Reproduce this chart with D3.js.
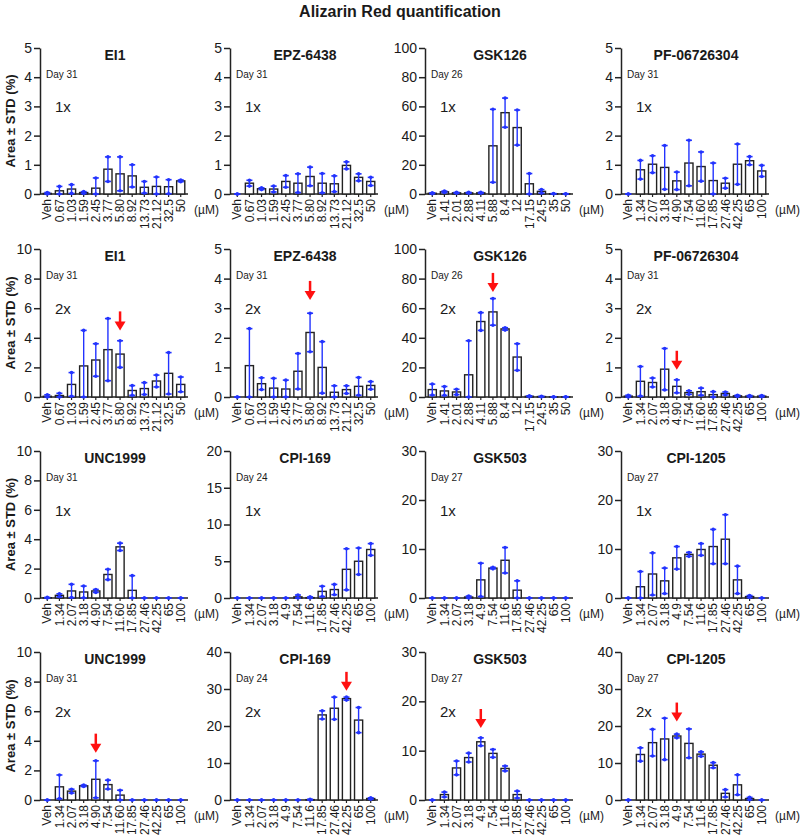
<!DOCTYPE html>
<html><head><meta charset="utf-8">
<script src="https://cdn.jsdelivr.net/npm/d3@7"></script>
<style>
body{margin:0;background:#fff}
text{font-family:"Liberation Sans",Arial,Helvetica,sans-serif;fill:#1a1a1a}
</style>
</head><body>
<svg id="c" width="800" height="837"></svg>
<script>
// ---------- categories (µM) ----------
const catsEI = ["Veh","0.67","1.03","1.59","2.45","3.77","5.80","8.92","13.73","21.12","32.5","50"];
const catsGSK126 = ["Veh","1.41","2.01","2.88","4.11","5.88","8.4","12","17.15","24.5","35","50"];
const catsPF = ["Veh","1.34","2.07","3.18","4.90","7.54","11.60","17.85","27.46","42.25","65","100"];
const catsB = ["Veh","1.34","2.07","3.18","4.9","7.54","11.6","17.85","27.46","42.25","65","100"];

// ---------- values: mean and STD (Area %) ----------
const ei1_1x_mean = [0.02,0.11,0.17,0.05,0.20,0.85,0.69,0.62,0.23,0.26,0.25,0.45];
const ei1_1x_sd   = [0.03,0.15,0.15,0.03,0.35,0.42,0.58,0.38,0.20,0.32,0.24,0.03];
const epz_1x_mean = [0,0.37,0.18,0.17,0.43,0.37,0.60,0.37,0.35,0.98,0.57,0.43];
const epz_1x_sd   = [0,0.10,0.03,0.10,0.20,0.32,0.32,0.33,0.27,0.12,0.12,0.14];
const gsk126_1x_mean = [0.5,1.5,0.8,0.8,0.8,33,55.7,45.5,7,1.8,0.2,0.1];
const gsk126_1x_sd   = [0.3,0.5,0.3,0.3,0.3,25,10,12,7,1.2,0.1,0.1];
const pf_1x_mean = [0,0.83,1.02,0.91,0.45,1.06,0.94,0.46,0.37,1.02,1.14,0.79];
const pf_1x_sd   = [0,0.32,0.29,0.75,0.30,0.78,0.50,0.60,0.17,0.69,0.14,0.19];

const ei1_2x_mean = [0.05,0.10,0.85,2.1,2.5,3.2,2.9,0.44,0.57,1.08,1.6,0.85];
const ei1_2x_sd   = [0.10,0.15,0.80,2.4,1.1,2.1,0.9,0.33,0.40,0.40,1.4,0.50];
const epz_2x_mean = [0,1.06,0.45,0.30,0.27,0.87,2.18,1.00,0.16,0.25,0.36,0.39];
const epz_2x_sd   = [0,1.25,0.20,0.33,0.30,0.60,0.65,0.87,0.22,0.13,0.30,0.13];
const gsk126_2x_mean = [5,4.1,3.4,15,51,57.5,46,27,0.5,0.3,0.1,0.1];
const gsk126_2x_sd   = [3.7,3,1.8,23,6,9,0.8,9,0.3,0.2,0.1,0.1];
const pf_2x_mean = [0.03,0.53,0.49,0.94,0.36,0.15,0.18,0.08,0.12,0.04,0.03,0.03];
const pf_2x_sd   = [0.03,0.50,0.15,0.70,0.22,0.06,0.12,0.10,0.05,0.02,0.02,0.02];

const unc_1x_mean = [0.02,0.18,0.48,0.41,0.48,1.6,3.48,0.52,0,0,0,0];
const unc_1x_sd   = [0.02,0.10,0.45,0.40,0.10,0.35,0.25,1.0,0,0,0,0];
const cpi169_1x_mean = [0,0,0,0,0,0.15,0.05,0.9,1.15,3.9,5.0,6.6];
const cpi169_1x_sd   = [0,0,0,0,0,0.25,0.10,0.7,0.7,2.8,1.8,0.8];
const gsk503_1x_mean = [0,0,0,0.2,3.7,6.1,7.7,1.6,0,0,0,0];
const gsk503_1x_sd   = [0,0,0,0.2,3.4,0.15,2.6,1.9,0,0,0,0];
const cpi1205_1x_mean = [0,2.3,4.9,3.5,8.2,8.9,9.9,10.5,12,3.7,0.3,0];
const cpi1205_1x_sd   = [0,3.1,4.3,2.6,2.3,0.4,1.2,3.5,5,2.8,0.2,0];

const unc_2x_mean = [0,0.89,0.60,0.96,1.40,1.04,0.33,0,0,0,0,0];
const unc_2x_sd   = [0,0.80,0.13,0.05,1.25,0.30,0.33,0,0,0,0,0];
const cpi169_2x_mean = [0,0,0,0,0,0,0.1,23,24.8,27.4,21.6,0.4];
const cpi169_2x_sd   = [0,0,0,0,0,0,0.1,1.1,3,0.4,3.4,0.2];
const gsk503_2x_mean = [0,1.1,6.5,8.6,11.8,9.45,6.4,1.1,0,0,0,0];
const gsk503_2x_sd   = [0,0.5,1.4,0.9,0.8,0.8,0.5,0.7,0,0,0,0];
const cpi1205_2x_mean = [0,12.3,15.5,16.5,17.3,15.3,12.4,9.4,1.8,4.1,0.4,0];
const cpi1205_2x_sd   = [0,1.8,3.6,5.6,0.5,3.9,0.6,0.7,1.0,2.7,0.3,0];

// ---------- panel meta ----------
const panelNames = ["EI1","EPZ-6438","GSK126","PF-06726304","EI1","EPZ-6438","GSK126","PF-06726304",
                    "UNC1999","CPI-169","GSK503","CPI-1205","UNC1999","CPI-169","GSK503","CPI-1205"];
const panelDays = ["Day 31","Day 31","Day 26","Day 31","Day 31","Day 31","Day 26","Day 31",
                   "Day 31","Day 24","Day 27","Day 27","Day 31","Day 24","Day 27","Day 27"];
const panelReps = ["1x","1x","1x","1x","2x","2x","2x","2x","1x","1x","1x","1x","2x","2x","2x","2x"];
const panelYMax = [5,5,100,5,10,5,100,5,10,20,30,30,10,40,30,40];
const panelYStep = [1,1,20,1,2,1,20,1,2,5,10,10,2,10,10,10];
const panelCats = [catsEI,catsEI,catsGSK126,catsPF,catsEI,catsEI,catsGSK126,catsPF,
                   catsPF,catsB,catsB,catsB,catsPF,catsB,catsB,catsB];
const panelMeans = [ei1_1x_mean,epz_1x_mean,gsk126_1x_mean,pf_1x_mean,ei1_2x_mean,epz_2x_mean,gsk126_2x_mean,pf_2x_mean,
                    unc_1x_mean,cpi169_1x_mean,gsk503_1x_mean,cpi1205_1x_mean,unc_2x_mean,cpi169_2x_mean,gsk503_2x_mean,cpi1205_2x_mean];
const panelSds = [ei1_1x_sd,epz_1x_sd,gsk126_1x_sd,pf_1x_sd,ei1_2x_sd,epz_2x_sd,gsk126_2x_sd,pf_2x_sd,
                  unc_1x_sd,cpi169_1x_sd,gsk503_1x_sd,cpi1205_1x_sd,unc_2x_sd,cpi169_2x_sd,gsk503_2x_sd,cpi1205_2x_sd];
// red arrows: category marked and arrow tip value (null = none)
const arrowCat = [null,null,null,null,"5.80","5.80","5.88","4.90",null,null,null,null,"4.90","42.25","4.9","4.9"];
const arrowTip = [null,null,null,null,4.5,3.28,71,0.92,null,null,null,null,3.2,29.5,14.6,21.2];

// ---------- drawing ----------
const svg = d3.select("#c");
const colX = [40, 230, 425, 621];
const rowTop = [48, 249, 451, 652];
const rowBot = [194, 397, 598, 800];
const ink = "#222", blue = "#2233ff", red = "#ff1010";

svg.append("text").attr("x",400).attr("y",17).attr("text-anchor","middle")
  .style("font-size","16px").style("font-weight","bold").text("Alizarin Red quantification");

panelNames.forEach((name,i)=>{
  const r = Math.floor(i/4), c = i%4;
  const x0 = colX[c], top = rowTop[r], bot = rowBot[r];
  const cats = panelCats[i], means = panelMeans[i], sds = panelSds[i];
  const g = svg.append("g");
  const x = d3.scaleBand().domain(cats).range([x0+2, x0+146]).paddingInner(0.33).paddingOuter(0.1);
  const y = d3.scaleLinear().domain([0, panelYMax[i]]).range([bot, top]);

  // y axis
  const gy = g.append("g").attr("transform",`translate(${x0},0)`)
    .call(d3.axisLeft(y).tickValues(d3.range(0, panelYMax[i]+panelYStep[i]/2, panelYStep[i]))
      .tickFormat(d3.format("d")).tickSize(6).tickPadding(2).tickSizeOuter(0));
  gy.selectAll("path,line").attr("stroke",ink).attr("stroke-width",1.5);
  gy.selectAll("text").style("font-size","14px").attr("fill","#1a1a1a");

  // x axis
  const gx = g.append("g").attr("transform",`translate(0,${bot})`)
    .call(d3.axisBottom(x).tickSize(3).tickSizeOuter(0));
  gx.select(".domain").remove();
  gx.selectAll("line").attr("stroke",ink).attr("stroke-width",1.2);
  gx.selectAll("text").attr("transform","rotate(-90)").attr("text-anchor","end")
    .attr("x",-5).attr("y",0).attr("dy","0.35em").style("font-size","12px").attr("fill","#1a1a1a");
  g.append("line").attr("x1",x0).attr("x2",x0+148).attr("y1",bot).attr("y2",bot)
    .attr("stroke",ink).attr("stroke-width",1.5);
  g.append("text").attr("x",x0+154).attr("y",bot+20).style("font-size","12px").text("(\u00b5M)");

  // labels
  g.append("text").attr("x",x0+75).attr("y",top+12).attr("text-anchor","middle")
    .style("font-size","14px").style("font-weight","bold").text(name);
  g.append("text").attr("x",x0+6).attr("y",top+30).style("font-size","10px").text(panelDays[i]);
  g.append("text").attr("x",x0+15).attr("y",top+0.4*(bot-top)+6).style("font-size","15px").text(panelReps[i]);

  // bars
  const data = cats.map((k,j)=>({k, m:means[j], s:sds[j]}));
  g.selectAll("rect.bar").data(data).join("rect").attr("class","bar")
    .attr("x",d=>x(d.k)).attr("width",x.bandwidth())
    .attr("y",d=>y(d.m)).attr("height",d=>bot-y(d.m))
    .attr("fill","#fff").attr("stroke",ink).attr("stroke-width",1.4);

  // error bars
  const eg = g.selectAll("g.err").data(data).join("g").attr("class","err")
    .attr("transform",d=>`translate(${x(d.k)+x.bandwidth()/2},0)`);
  eg.append("line").attr("y1",d=>y(Math.max(0,d.m-d.s))).attr("y2",d=>y(d.m+d.s))
    .attr("stroke",blue).attr("stroke-width",1.4);
  eg.append("line").attr("x1",-3).attr("x2",3).attr("y1",d=>y(d.m+d.s)).attr("y2",d=>y(d.m+d.s))
    .attr("stroke",blue).attr("stroke-width",1.6);
  eg.append("line").attr("x1",-3).attr("x2",3).attr("y1",d=>y(Math.max(0,d.m-d.s))).attr("y2",d=>y(Math.max(0,d.m-d.s)))
    .attr("stroke",blue).attr("stroke-width",1.6);
  eg.append("circle").attr("cy",d=>y(d.m+d.s)).attr("r",1.8).attr("fill",blue);
  eg.append("circle").attr("cy",d=>y(Math.max(0,d.m-d.s))).attr("r",1.8).attr("fill",blue);

  // red arrow
  if (arrowCat[i] !== null) {
    const ax = x(arrowCat[i]) + x.bandwidth()/2, ty = y(arrowTip[i]);
    g.append("line").attr("x1",ax).attr("x2",ax).attr("y1",ty-19).attr("y2",ty-7)
      .attr("stroke",red).attr("stroke-width",2.5);
    g.append("path").attr("d",`M${ax-5.5},${ty-9}L${ax+5.5},${ty-9}L${ax},${ty}Z`).attr("fill",red);
  }
});

// y axis titles (left column)
rowTop.forEach((t,r)=>{
  const cy = (t + rowBot[r]) / 2;
  svg.append("text").attr("transform",`translate(15,${cy}) rotate(-90)`).attr("text-anchor","middle")
    .style("font-size","13px").style("font-weight","bold").text("Area \u00b1 STD (%)");
});
</script>
</body></html>
